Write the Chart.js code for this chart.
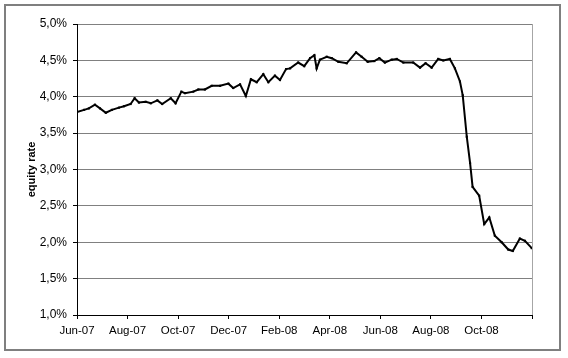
<!DOCTYPE html>
<html>
<head>
<meta charset="utf-8">
<script src="https://cdn.jsdelivr.net/npm/chart.js@4.4.1/dist/chart.umd.min.js"></script>
<style>
  html, body { margin: 0; padding: 0; background: #fff; }
  #wrap { position: relative; width: 568px; height: 358px; }
  #frame {
    position: absolute; left: 4px; top: 4px; width: 553px; height: 343px;
    border: 2px solid #7f7f7f; pointer-events: none;
  }
  canvas { position: absolute; left: 0; top: 0; }
</style>
</head>
<body>
<div id="wrap">
  <canvas id="chart" width="568" height="358"></canvas>
  <div id="frame"></div>
</div>
<script>
// x = months since Jun-07 (weekly readings), y = equity rate in %
const months = [
  0, 0.28, 0.47, 0.71, 0.91, 1.14, 1.38, 1.66, 1.86, 2.12,
  2.28, 2.45, 2.72, 2.92, 3.18, 3.37, 3.71, 3.90, 4.13, 4.27,
  4.60, 4.80, 5.06, 5.33, 5.66, 5.99, 6.18, 6.45, 6.68, 6.88,
  7.11, 7.37, 7.57, 7.83, 8.03, 8.27, 8.43, 8.75, 8.99, 9.22,
  9.39, 9.48, 9.61, 9.88, 10.08, 10.34, 10.67, 11.04, 11.26, 11.50,
  11.76, 11.96, 12.18, 12.45, 12.65, 12.91, 13.30, 13.57, 13.79, 14.03,
  14.29, 14.49, 14.75, 14.95, 15.15, 15.26, 15.42, 15.55, 15.65, 15.91,
  16.11, 16.31, 16.53, 16.80, 17.06, 17.24, 17.52, 17.72, 17.99
];
const equityRate = [
  3.79, 3.82, 3.84, 3.89, 3.84, 3.78, 3.82, 3.85, 3.87, 3.90,
  3.98, 3.92, 3.93, 3.91, 3.95, 3.90, 3.98, 3.91, 4.07, 4.05,
  4.07, 4.10, 4.10, 4.15, 4.15, 4.18, 4.12, 4.17, 4.01, 4.24,
  4.20, 4.31, 4.20, 4.29, 4.23, 4.38, 4.39, 4.47, 4.42, 4.53,
  4.57, 4.39, 4.51, 4.55, 4.53, 4.48, 4.46, 4.61, 4.55, 4.48,
  4.49, 4.53, 4.47, 4.51, 4.52, 4.47, 4.47, 4.40, 4.46, 4.40,
  4.52, 4.50, 4.52, 4.39, 4.21, 4.02, 3.45, 3.09, 2.76, 2.64,
  2.25, 2.34, 2.09, 2.00, 1.90, 1.88, 2.05, 2.02, 1.92
];
// one label every two months, last tick (Dec-08) unlabeled
const tickLabels = ['Jun-07', 'Aug-07', 'Oct-07', 'Dec-07', 'Feb-08', 'Apr-08', 'Jun-08', 'Aug-08', 'Oct-08', ''];
const yMin = 1, yMax = 5, yStep = 0.5;

const points = months.map((m, i) => ({ x: m, y: equityRate[i] }));

// light grey right edge of the plot area
const rightEdge = {
  id: 'rightEdge',
  afterDraw(chart) {
    const { ctx, chartArea } = chart;
    ctx.save();
    ctx.strokeStyle = '#a6a6a6';
    ctx.lineWidth = 1;
    ctx.beginPath();
    ctx.moveTo(Math.round(chartArea.right) + 0.5, chartArea.top);
    ctx.lineTo(Math.round(chartArea.right) + 0.5, chartArea.bottom);
    ctx.stroke();
    ctx.restore();
  }
};

new Chart(document.getElementById('chart'), {
  type: 'line',
  data: {
    datasets: [{
      label: 'equity rate',
      data: points,
      borderColor: '#000',
      backgroundColor: '#000',
      borderWidth: 2,
      tension: 0,
      pointRadius: 1.5,
      pointStyle: 'rect',
      pointBorderWidth: 0,
      fill: false,
    }]
  },
  options: {
    responsive: false,
    animation: false,
    layout: { padding: { left: 0, top: 24, right: 36, bottom: 0 } },
    plugins: { legend: { display: false }, tooltip: { enabled: false } },
    scales: {
      x: {
        type: 'linear',
        min: 0,
        max: 18,
        afterFit: (s) => { s.height = 43; },
        border: { color: '#000', width: 1 },
        grid: { drawOnChartArea: false, drawTicks: true, tickLength: 4, color: '#000' },
        ticks: {
          stepSize: 2,
          autoSkip: false,
          maxRotation: 0,
          padding: 5,
          color: '#000',
          font: { family: 'Liberation Sans', size: 11.5 },
          callback: (v) => tickLabels[Math.round(v / 2)],
        },
      },
      y: {
        min: yMin,
        max: yMax,
        afterFit: (s) => { s.width = 77; },
        border: { color: '#000', width: 1 },
        grid: { color: '#808080', tickColor: '#000', tickLength: 4, lineWidth: 1 },
        ticks: {
          stepSize: yStep,
          padding: 6,
          color: '#000',
          font: { family: 'Liberation Sans', size: 12 },
          callback: (v) => v.toFixed(1).replace('.', ',') + '%',
        },
        title: {
          display: true,
          text: 'equity rate',
          color: '#000',
          font: { family: 'Liberation Sans', size: 11, weight: 'bold' },
          padding: { top: 25, bottom: 0 },
        },
      }
    }
  },
  plugins: [rightEdge]
});
</script>
</body>
</html>
